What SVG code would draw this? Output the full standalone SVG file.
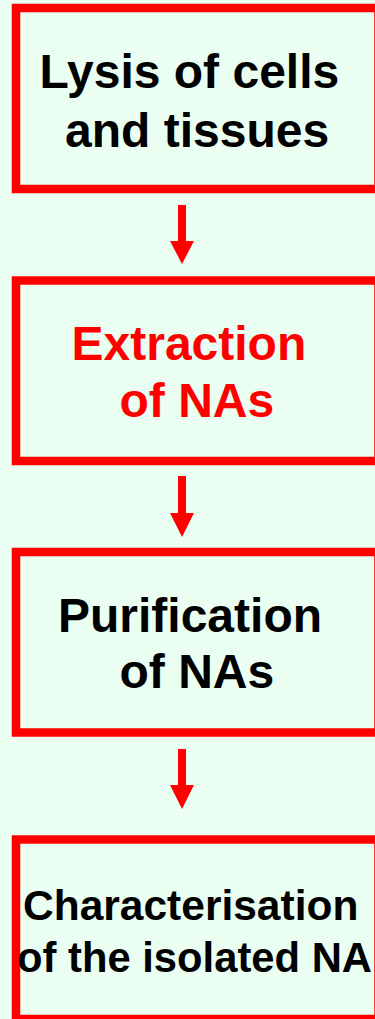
<svg xmlns="http://www.w3.org/2000/svg" width="375" height="1019" viewBox="0 0 375 1019">
<style>
.box{fill:none;stroke:#FF0000;stroke-width:8.5}
.t{font-family:"Liberation Sans",Arial,sans-serif;font-weight:bold;font-size:48px;fill:#000}
.red{fill:#FF0000}
.small{font-size:42.5px}
.arrow{fill:#FF0000}
</style>
<rect width="375" height="1019" fill="#EAFEF1"/>
<g id="node-lysis">
<rect class="box" x="16" y="8" width="362.5" height="181"/>
<text class="t" x="39.5" y="88">Lysis of cells</text>
<text class="t" x="65" y="146.5">and tissues</text>
</g>
<g id="node-extraction">
<rect class="box" x="16" y="280.5" width="362.5" height="180.5"/>
<text class="t red" x="71.5" y="360">Extraction</text>
<text class="t red" x="119.5" y="416.5">of NAs</text>
</g>
<g id="node-purification">
<rect class="box" x="16" y="552" width="362.5" height="180.5"/>
<text class="t" x="58" y="631.5">Purification</text>
<text class="t" x="119.5" y="688">of NAs</text>
</g>
<g id="node-characterisation">
<rect class="box" x="16" y="839.5" width="362.5" height="179.5"/>
<text class="t small" x="23" y="920">Characterisation</text>
<text class="t small" x="17" y="971.5" textLength="355" lengthAdjust="spacingAndGlyphs">of the isolated NA</text>
</g>
<g id="connectors">
<polygon class="arrow" points="178,205 186,205 186,241 194,241 182,264 170,241 178,241"/>
<polygon class="arrow" points="178,476 186,476 186,513 194,513 182,537 170,513 178,513"/>
<polygon class="arrow" points="178,749 186,749 186,785 194,785 182,809 170,785 178,785"/>
</g>
</svg>
